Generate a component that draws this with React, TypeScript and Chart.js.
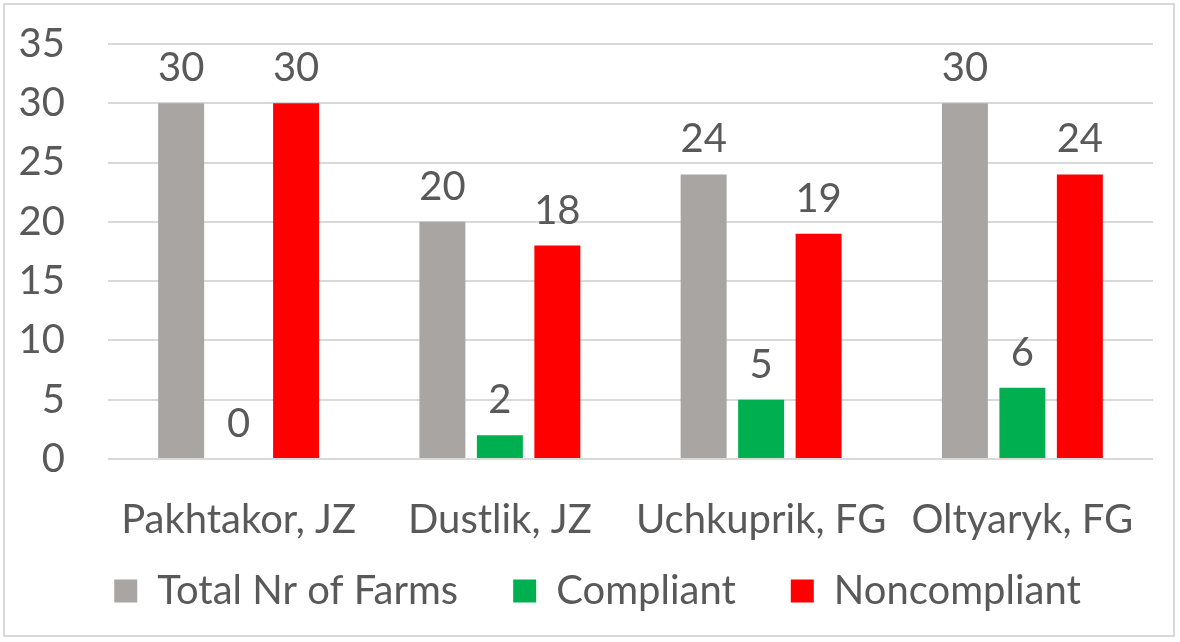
import React, { useEffect, useRef } from "react";
import { Chart, registerables } from "chart.js";

Chart.register(...registerables);

const categories = ["Pakhtakor, JZ", "Dustlik, JZ", "Uchkuprik, FG", "Oltyaryk, FG"];
const totalFarms = [30, 20, 24, 30];
const compliant = [0, 2, 5, 6];
const noncompliant = [30, 18, 19, 24];
const seriesNames = ["Total Nr of Farms", "Compliant", "Noncompliant"];
const seriesColors = ["#a8a5a3", "#00b050", "#ff0000"];
const yTickStep = 5;
const yMax = 35;

const FONT = "Lato, 'DejaVu Sans', sans-serif";
const TEXT = "#595959";
const FS = 40;
const LEGEND_PAD = 55;

const valueLabels = {
  id: "valueLabels",
  afterDatasetsDraw(chart: any) {
    const ctx = chart.ctx;
    ctx.save();
    ctx.font = `${FS}px ${FONT}`;
    ctx.fillStyle = TEXT;
    ctx.textAlign = "center";
    ctx.textBaseline = "alphabetic";
    chart.data.datasets.forEach((ds: any, di: number) => {
      const meta = chart.getDatasetMeta(di);
      meta.data.forEach((bar: any, i: number) => {
        ctx.fillText(String(ds.data[i]), bar.x, bar.y - 22);
      });
    });
    ctx.restore();
  },
};

// place the legend row so that its text centre sits at y = 591
const legendPlace = {
  id: "legendPlace",
  afterLayout(chart: any) {
    const lg = chart.legend;
    if (!lg) return;
    const top = 591 - LEGEND_PAD - FS / 2;
    lg.top = top;
    lg.bottom = 640;
    lg.height = lg.bottom - top;
    lg.left += 21;
    lg.right += 21;
  },
};

export default function App() {
  const ref = useRef<HTMLCanvasElement>(null);
  useEffect(() => {
    document.body.style.margin = "0";
    const chart = new Chart(ref.current!, {
      type: "bar",
      data: {
        labels: categories,
        datasets: [totalFarms, compliant, noncompliant].map((d, i) => ({
          label: seriesNames[i],
          data: d,
          backgroundColor: seriesColors[i],
          borderWidth: 0,
          categoryPercentage: 0.66,
          barPercentage: 0.8,
        })),
      },
      options: {
        animation: false,
        responsive: false,
        maintainAspectRatio: false,
        layout: { padding: { left: 0, right: 27, top: 0, bottom: 13 } },
        plugins: {
          tooltip: { enabled: false },
          legend: {
            position: "bottom",
            maxHeight: 80,
            labels: {
              boxWidth: 23,
              boxHeight: 23,
              padding: LEGEND_PAD,
              color: TEXT,
              font: { family: FONT, size: FS },
            },
          },
        },
        scales: {
          x: {
            grid: { display: false },
            border: { display: false },
            ticks: { color: TEXT, font: { family: FONT, size: FS }, padding: 29, maxRotation: 0 },
            afterFit: (s: any) => {
              s.height = 90;
            },
          },
          y: {
            min: 0,
            max: yMax,
            ticks: { stepSize: yTickStep, color: TEXT, font: { family: FONT, size: FS }, padding: 20 },
            grid: { color: "#d9d9d9", lineWidth: 2, drawTicks: true, tickLength: 23, tickColor: "rgba(0,0,0,0)" },
            border: { display: false },
            afterFit: (s: any) => {
              s.width = 108;
            },
          },
        },
      },
      plugins: [valueLabels, legendPlace],
    });
    return () => chart.destroy();
  }, []);
  return (
    <div style={{ position: "relative", width: 1180, height: 642, background: "#fff" }}>
      <canvas ref={ref} width={1180} height={642} style={{ display: "block" }} />
      <div
        style={{
          position: "absolute",
          left: 3,
          top: 3,
          width: 1172,
          height: 634,
          border: "2px solid #d9d9d9",
          boxSizing: "border-box",
          pointerEvents: "none",
        }}
      />
    </div>
  );
}
